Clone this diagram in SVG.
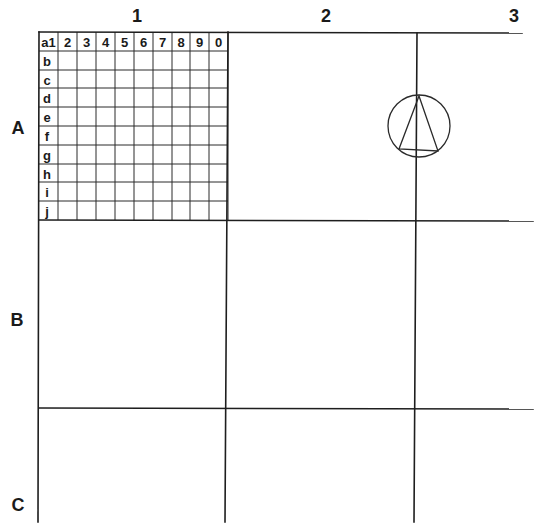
<svg xmlns="http://www.w3.org/2000/svg" width="535" height="526" viewBox="0 0 535 526">
<style>
.bg{fill:#fff}
.major{stroke:#1e1e1e;stroke-width:1.6;fill:none;stroke-linecap:square}
.minor{stroke:#2a2a2a;stroke-width:1;fill:none}
.lbl{font-family:"Liberation Sans",Arial,sans-serif;font-weight:bold;font-size:18px;fill:#1a1a1a;text-anchor:middle}
.cell{font-family:"Liberation Sans",Arial,sans-serif;font-weight:bold;font-size:13px;fill:#1a1a1a;text-anchor:middle}
.sym{stroke:#2a2a2a;stroke-width:1.3;fill:none}
</style>
<rect class="bg" x="0" y="0" width="535" height="526"/>
<g id="labels">
<text class="lbl" x="137" y="22">1</text>
<text class="lbl" x="326" y="22">2</text>
<text class="lbl" x="514" y="22">3</text>
<text class="lbl" x="18" y="134">A</text>
<text class="lbl" x="17" y="326">B</text>
<text class="lbl" x="18" y="511">C</text>
</g>
<g id="fine-grid">
<path class="minor" d="M58,32V220M77,32V220M96,32V220M115,32V220M134,32V220M153,32V220M172,32V220M190,32V220M209,32V220M228,32V220"/>
<path class="minor" d="M39,51H228M39,70H228M39,88H228M39,107H228M39,126H228M39,145H228M39,164H228M39,182H228M39,201H228"/>
<text class="cell" x="48.5" y="46.5">a1</text>
<text class="cell" x="67.5" y="46.5">2</text>
<text class="cell" x="86.5" y="46.5">3</text>
<text class="cell" x="105.5" y="46.5">4</text>
<text class="cell" x="124.5" y="46.5">5</text>
<text class="cell" x="143.5" y="46.5">6</text>
<text class="cell" x="162.5" y="46.5">7</text>
<text class="cell" x="181" y="46.5">8</text>
<text class="cell" x="199.5" y="46.5">9</text>
<text class="cell" x="218.5" y="46.5">0</text>
<text class="cell" x="47" y="65.5">b</text>
<text class="cell" x="47" y="84.5">c</text>
<text class="cell" x="47" y="102.5">d</text>
<text class="cell" x="47" y="121.5">e</text>
<text class="cell" x="47" y="140.5">f</text>
<text class="cell" x="47" y="159.5">g</text>
<text class="cell" x="47" y="178.5">h</text>
<text class="cell" x="47" y="196.5">i</text>
<text class="cell" x="47" y="215.5">j</text>
</g>
<g id="main-grid">
<path class="major" d="M39,32L522,33"/>
<path class="major" d="M39,220L533,221"/>
<path class="major" d="M39,408L533,409"/>
<path class="major" d="M39,32L38,522"/>
<path class="major" d="M228,32L225,522"/>
<path class="major" d="M417,33L414,522"/>
</g>
<g id="symbol">
<circle class="sym" cx="419" cy="126" r="31"/>
<path class="sym" d="M419,96L399,149L438,151Z"/>
</g>
</svg>
